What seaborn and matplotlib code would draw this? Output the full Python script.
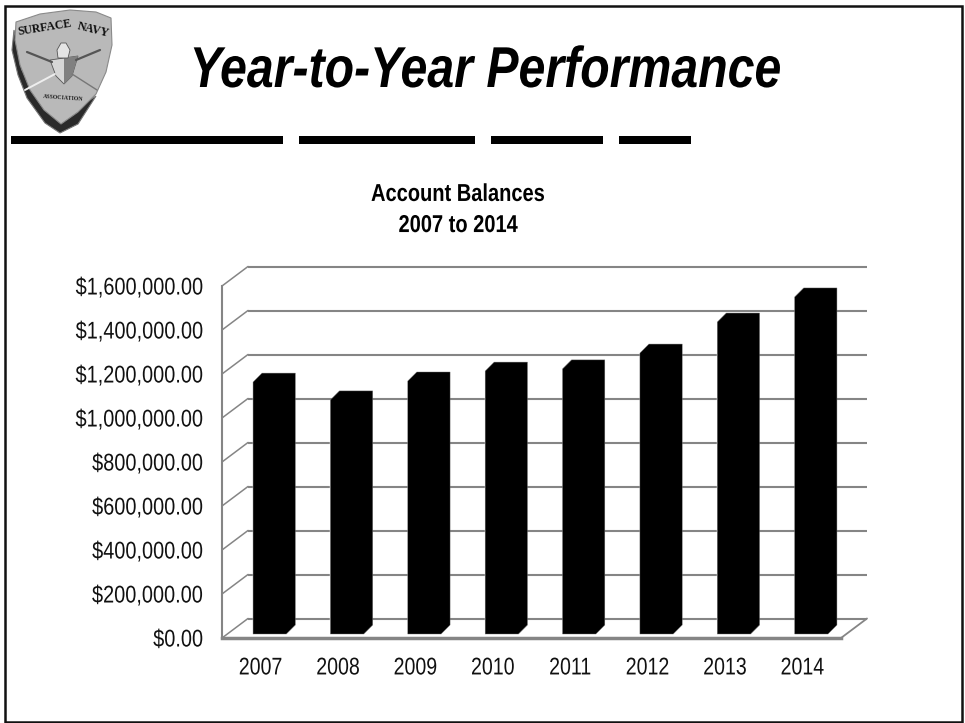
import numpy as np
import pandas as pd
import seaborn as sns
import matplotlib
matplotlib.use('Agg')
import matplotlib.pyplot as plt
from matplotlib.patches import Polygon, Rectangle
from matplotlib.patheffects import AbstractPathEffect
from matplotlib.transforms import Affine2D

years = ['2007', '2008', '2009', '2010', '2011', '2012', '2013', '2014']
balances = [1145000, 1064000, 1150000, 1195000, 1205000, 1277000, 1418000, 1532000]
y_ticks = [0, 200000, 400000, 600000, 800000, 1000000, 1200000, 1400000, 1600000]

slide_title = 'Year-to-Year Performance'
chart_title = 'Account Balances\n2007 to 2014'
rule_segments = [(11, 283), (299, 475), (491, 603), (619, 691)]


# the slide font is a narrow one, squeeze the glyphs sideways while they stay text
class Squeeze(AbstractPathEffect):
    def __init__(self, k, anchor='center'):
        super().__init__()
        self.k = k
        self.anchor = anchor

    def draw_path(self, renderer, gc, tpath, affine, rgbFace=None):
        box = tpath.get_extents(affine)
        a = box.x1 if self.anchor == 'right' else (box.x0 + box.x1) / 2
        t = affine + Affine2D().translate(-a, 0).scale(self.k, 1).translate(a, 0)
        renderer.draw_path(gc, tpath, t, rgbFace)


sns.set_theme(style='white')
plt.rcParams['font.family'] = ['Liberation Sans', 'DejaVu Sans']

GRID = '#858585'
W, H = 965, 723

fig = plt.figure(figsize=(W / 100, H / 100), dpi=100, facecolor='white')

# chart axes = the front plane of the fake 3d box
left, right, bottom, top = 222, 841, 638, 286
ax = fig.add_axes([left / W, (H - bottom) / H, (right - left) / W, (bottom - top) / H])

df = pd.DataFrame({'year': years, 'balance': balances})
sns.barplot(data=df, x='year', y='balance', color='black', saturation=1, width=0.43, ax=ax, zorder=3)
ax.set_xlim(-0.5, 7.5)
ax.set_ylim(0, 1600000)

# pixels to data units
px_x = 8 / (right - left)
px_y = 1600000 / (bottom - top)

# back wall gridlines and the slanted side lines
back_x, back_y = 26 * px_x, 19.5 * px_y
ax.hlines(np.array(y_ticks) + back_y, -0.5 + back_x, 7.5 + back_x, color=GRID, lw=1.5, zorder=1, clip_on=False)
for t in y_ticks:
    ax.plot([-0.5, -0.5 + back_x], [t, t + back_y], color=GRID, lw=1.1, zorder=1, clip_on=False)
ax.plot([7.5, 7.5 + back_x], [0, back_y], color=GRID, lw=1.3, zorder=1, clip_on=False)

# bars sit inside the box and have a depth, all black so only the outline shows
shift_x, shift_y = 9 * px_x, 4 * px_y
dx, dy = 9 * px_x, 9 * px_y
for bar in list(ax.patches):
    bar.set_x(bar.get_x() + shift_x)
    bar.set_y(bar.get_y() + shift_y)
    x0, x1 = bar.get_x(), bar.get_x() + bar.get_width()
    y0, y1 = bar.get_y(), bar.get_y() + bar.get_height()
    ax.add_patch(Polygon([(x0, y0), (x1, y0), (x1 + dx, y0 + dy), (x1 + dx, y1 + dy),
                          (x0 + dx, y1 + dy), (x0, y1)], closed=True, facecolor='black',
                         edgecolor='#707070', lw=0.3, zorder=3, clip_on=False))

for s in ['top', 'right']:
    ax.spines[s].set_visible(False)
for s in ['left', 'bottom']:
    ax.spines[s].set_color(GRID)
ax.spines['left'].set_linewidth(1.5)
ax.spines['bottom'].set_linewidth(2.5)
ax.set_xlabel('')
ax.set_ylabel('')
ax.set_yticks(y_ticks)
ax.set_yticklabels([f'${v:,.2f}' for v in y_ticks])
ax.tick_params(axis='y', length=0, pad=13.5, labelsize=17.4, labelcolor='#111111')
ax.tick_params(axis='x', length=0, pad=14, labelsize=17.4, labelcolor='#111111')
for lab in ax.get_yticklabels():
    lab.set_path_effects([Squeeze(0.825, 'right')])
for lab in ax.get_xticklabels():
    lab.set_path_effects([Squeeze(0.81)])
ax.grid(False)
ax.patch.set_alpha(0)

# overlay in pixel coords for the slide furniture
ov = fig.add_axes([0, 0, 1, 1], zorder=5)
ov.set_xlim(0, W)
ov.set_ylim(H, 0)
ov.axis('off')
ov.add_patch(Rectangle((4.5, 5.5), 957, 716, fill=False, edgecolor='#111111', lw=1.8))
for a, b in rule_segments:
    ov.add_patch(Rectangle((a, 136), b - a, 8, color='black', lw=0))

ov.text(485, 72, slide_title, ha='center', va='center', fontsize=41.5, fontweight='bold', fontstyle='italic',
        color='black', path_effects=[Squeeze(0.837)])
ov.text(458, 210, chart_title, ha='center', va='center', fontsize=17.6, fontweight='bold', color='black',
        linespacing=1.45, path_effects=[Squeeze(0.82)])

# shield logo
shadow = [(14, 30), (12, 50), (18, 75), (27, 98), (45, 123), (60, 133), (78, 124), (96, 96), (60, 118), (40, 98), (22, 70)]
shield = [(16, 22), (40, 14), (70, 10), (96, 12), (111, 18), (112, 45), (106, 72), (96, 94), (78, 112), (61, 124), (44, 110), (30, 90), (20, 65), (15, 40)]
ov.add_patch(Polygon(shadow, closed=True, facecolor='#2a2a2a', edgecolor='#777777', lw=0.8))
ov.add_patch(Polygon(shield, closed=True, facecolor='#b9b9b9', edgecolor='#8a8a8a', lw=0.8))
ov.add_patch(Polygon([(50, 60), (78, 56), (72, 76), (64, 84), (56, 76)], closed=True, facecolor='#d6d6d6', edgecolor='#555555', lw=0.6))
ov.add_patch(Polygon([(64, 58), (78, 56), (72, 76), (64, 84)], closed=True, facecolor='#808080', lw=0))
ov.add_patch(Polygon([(57, 50), (61, 43), (66, 43), (70, 50), (68, 58), (58, 58)], closed=True, facecolor='#e4e4e4', edgecolor='#555555', lw=0.6))
ov.plot([27, 52], [52, 62], color='#555555', lw=1.6)
ov.plot([76, 100], [60, 50], color='#555555', lw=1.6)
ov.plot([25, 55], [90, 74], color='#eeeeee', lw=1.4)
ov.plot([72, 97], [74, 90], color='#777777', lw=1)
ov.text(45, 28, 'SURFACE', ha='center', va='center', rotation=9, fontsize=8.5, fontweight='bold', family='Liberation Serif', color='#101010')
ov.text(93, 30, 'NAVY', ha='center', va='center', rotation=-14, fontsize=8.5, fontweight='bold', family='Liberation Serif', color='#101010')
ov.text(63, 98, 'ASSOCIATION', ha='center', va='center', rotation=-4, fontsize=4.2, fontweight='bold', family='Liberation Serif', color='#222222')

fig.savefig('out.png', dpi=100, facecolor='white')
